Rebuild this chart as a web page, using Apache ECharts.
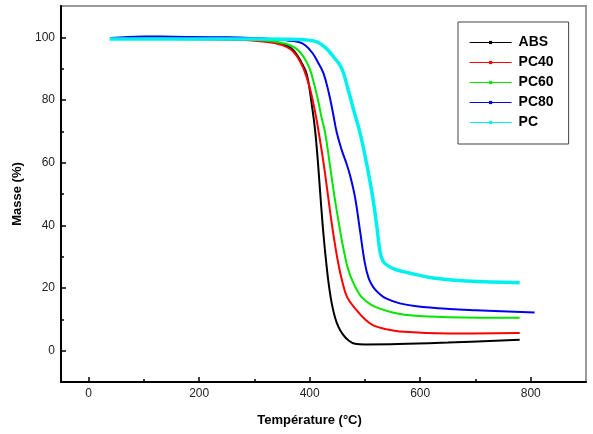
<!DOCTYPE html>
<html>
<head>
<meta charset="utf-8">
<script src="https://cdn.jsdelivr.net/npm/echarts@6/dist/echarts.min.js"></script>
<style>
  html, body { margin: 0; padding: 0; background: #fff; }
  #chart { width: 593px; height: 434px; }
</style>
</head>
<body>
<div id="chart"></div>
<script>
// ---- Data ----
const seriesNames = ['ABS', 'PC40', 'PC60', 'PC80', 'PC'];

const tempABS = [40,150,250,320,350,370,385,395,405,410,415,420,425,430,435,440,446,452,460,470,482,500,560,650,780];
const massABS = [99.6,99.6,99.4,99,98,96,92,88,77,70,60,48,37,28,20.5,15,10.5,7.6,5.2,3.3,2.2,2.0,2.1,2.6,3.5];

const tempPC40 = [40,150,250,320,350,370,385,395,402,410,417,425,432,438,443,450,458,468,485,500,515,540,563,650,780];
const massPC40 = [99.5,99.5,99.3,98.6,97.5,95.5,91.5,87,82.6,76,69,60,51,43,37,29.5,22.8,17,12.9,10,8.1,6.8,6.1,5.5,5.6];

const tempPC60 = [40,150,250,320,350,375,390,400,407,415,422,428,436,445,455,460,470,482,494,510,527,550,581,650,780];
const massPC60 = [99.6,99.6,99.5,99,98.2,96.5,93.5,90,85.8,80,74,69.5,60,49,38.4,33.5,25.7,20.5,17.1,14.8,13.4,12.2,11.3,10.7,10.5];

const tempPC80 = [40,100,150,250,330,360,380,392,405,415,425,435,442,449,458,466,473,482,491,500,507,515,527,539,563,593,653,700,807];
const massPC80 = [99.8,100.3,100.2,100,99.5,99,98.5,97.5,95,92,88.5,82,76,69.6,64,60,56,49,38.4,27.8,23,20.3,18,16.6,15.1,14.2,13.3,12.9,12.2];

const tempPC = [38,100,200,300,360,390,412,428,443,458,470,480,491,503,514,522,527,532,540,555,580,623,683,780];
const massPC = [99.5,99.5,99.5,99.5,99.4,99.2,98.6,96.8,93.8,90.1,83,76.5,69.6,59.7,49,39,32,28.8,27.3,25.9,24.8,23.2,22.2,21.7];

const xMajorTicks = [0, 200, 400, 600, 800];
const xMinorTicks = [100, 300, 500, 700];
const yMajorTicks = [0, 20, 40, 60, 80, 100];
const yMinorTicks = [10, 30, 50, 70, 90];

const colors = ['#000000', '#ff0000', '#00e600', '#0000ee', '#00f0f0'];
const widths = [2, 2, 2, 2, 3.5];

const zip = (a, b) => a.map((v, i) => [v, b[i]]);
const dataSets = [
  zip(tempABS, massABS),
  zip(tempPC40, massPC40),
  zip(tempPC60, massPC60),
  zip(tempPC80, massPC80),
  zip(tempPC, massPC)
];

const FONT = 'Liberation Sans, Arial, sans-serif';
const chart = echarts.init(document.getElementById('chart'), null, { renderer: 'canvas' });

const option = {
  animation: false,
  backgroundColor: '#fff',
  grid: {
    left: 61, right: 7, top: 6, bottom: 52,
    show: true, borderColor: '#999', borderWidth: 2, backgroundColor: 'transparent'
  },
  legend: {
    orient: 'vertical',
    left: 458, top: 22,
    padding: [13, 15, 14, 11],
    borderColor: '#444', borderWidth: 1,
    itemWidth: 42, itemHeight: 4, itemGap: 5,
    data: seriesNames,
    lineStyle: { width: 1.2 },
    textStyle: { fontFamily: FONT, fontSize: 14, fontWeight: 'bold', color: '#000', lineHeight: 15, padding: [0, 0, 0, 2] }
  },
  xAxis: [{
    type: 'value', min: -50, max: 900,
    name: 'Température (°C)', nameLocation: 'middle', nameGap: 32,
    nameTextStyle: { fontFamily: FONT, fontSize: 13, fontWeight: 'bold', color: '#000', padding: [0, 28, 0, 0] },
    axisLine: { show: true, onZero: false, lineStyle: { color: '#000', width: 2 } },
    axisTick: { show: true, inside: true, length: 5, customValues: xMajorTicks, lineStyle: { color: '#000', width: 1.5 } },
    axisLabel: { customValues: xMajorTicks, margin: 6, fontFamily: FONT, fontSize: 12, color: '#222' },
    splitLine: { show: false }
  }, {
    type: 'value', min: -50, max: 900, position: 'bottom', gridIndex: 0,
    axisLine: { show: false, onZero: false },
    axisTick: { show: true, inside: true, length: 3, customValues: xMinorTicks, lineStyle: { color: '#000', width: 1.5 } },
    axisLabel: { show: false },
    splitLine: { show: false }
  }],
  yAxis: [{
    type: 'value', min: -10, max: 110,
    name: 'Masse (%)', nameLocation: 'middle', nameGap: 32, nameRotate: 90,
    nameTextStyle: { fontFamily: FONT, fontSize: 13, fontWeight: 'bold', color: '#000' },
    axisLine: { show: true, onZero: false, lineStyle: { color: '#000', width: 2 } },
    axisTick: { show: true, inside: true, length: 5, customValues: yMajorTicks, lineStyle: { color: '#000', width: 1.5 } },
    axisLabel: { customValues: yMajorTicks, margin: 6, fontFamily: FONT, fontSize: 12, color: '#222' },
    splitLine: { show: false }
  }, {
    type: 'value', min: -10, max: 110, position: 'left', gridIndex: 0,
    axisLine: { show: false, onZero: false },
    axisTick: { show: true, inside: true, length: 3, customValues: yMinorTicks, lineStyle: { color: '#000', width: 1.5 } },
    axisLabel: { show: false },
    splitLine: { show: false }
  }],
  series: seriesNames.map((name, i) => ({
    name: name,
    type: 'line',
    xAxisIndex: 0, yAxisIndex: 0,
    data: dataSets[i],
    smooth: 0.4,
    showSymbol: false,
    symbol: 'rect',
    symbolSize: 3,
    color: colors[i],
    lineStyle: { color: colors[i], width: widths[i] },
    z: 2 + i
  }))
};
chart.setOption(option);
</script>
</body>
</html>
